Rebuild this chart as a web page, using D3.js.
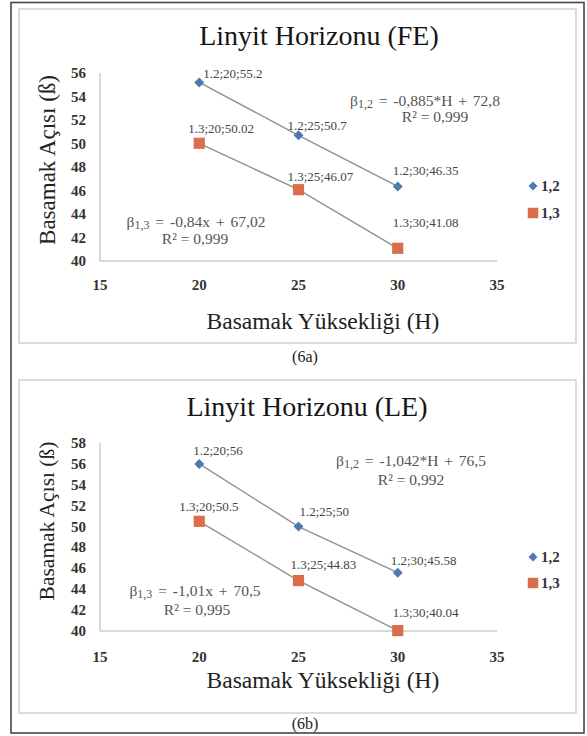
<!DOCTYPE html>
<meta charset="utf-8">
<style>
    body { margin: 0; background: #fff; }
    svg text { font-family: "Liberation Serif", "Tinos", "DejaVu Serif", serif; }
    .tick-label { font-weight: bold; font-size: 15px; fill: #333; }
    .point-label { font-size: 13px; fill: #444; }
    .equation { font-size: 15.5px; fill: #555; }
    .legend text { font-weight: bold; font-size: 15px; fill: #333; }
</style>
<svg width="587" height="736"></svg>
<script src="https://d3js.org/d3.v7.min.js"></script>
<script>
    // shared data
    const heights = [20, 25, 30];
    const xTicks = [15, 20, 25, 30, 35];
    const seriesNames = ["1,2", "1,3"];
    const seriesKeys = ["1.2", "1.3"];

    // (6a) FE
    const feBeta12 = [55.2, 50.7, 46.35];
    const feBeta13 = [50.02, 46.07, 41.08];
    const feYTicks = [40, 42, 44, 46, 48, 50, 52, 54, 56];
    const feEquations = ["-0,885*H + 72,8", "-0,84x + 67,02"];
    const feR2 = ["0,999", "0,999"];

    // (6b) LE
    const leBeta12 = [56, 50, 45.58];
    const leBeta13 = [50.5, 44.83, 40.04];
    const leYTicks = [40, 42, 44, 46, 48, 50, 52, 54, 56, 58];
    const leEquations = ["-1,042*H + 76,5", "-1,01x + 70,5"];
    const leR2 = ["0,992", "0,995"];

    // label nudges (px) so the point labels sit like in the original
    const feLabelOffsets = [[[4, -4], [-11, -5], [-5, -11]], [[-11, -10], [-11, -9], [-5, -21]]];
    const leLabelOffsets = [[[-6, -9], [1, -11], [-7, -8]], [[-20, -10], [-8, -12], [-5, -14]]];

    const colors = ["#4f79b3", "#da6d4b"];
    const serif = "'Liberation Serif', Tinos, 'DejaVu Serif', serif";

    const svg = d3.select("svg");

    // outer frame
    svg.append("rect")
        .attr("x", 11).attr("y", 2.5)
        .attr("width", 573).attr("height", 730.5)
        .attr("fill", "none").attr("stroke", "#454545").attr("stroke-width", 1.6);

    function drawPanel(p) {
        const g = svg.append("g").attr("font-family", serif);

        g.append("rect")
            .attr("x", 19).attr("y", p.boxTop)
            .attr("width", 557).attr("height", p.boxBottom - p.boxTop)
            .attr("fill", "none").attr("stroke", "#d8d8d8").attr("stroke-width", 1.8);

        const x = d3.scaleLinear().domain([15, 35]).range([100, 497]);
        const y = d3.scaleLinear().domain([40, d3.max(p.yTicks)]).range([p.yBottom, p.yTop]);

        // axis lines
        g.append("line")
            .attr("x1", x(15)).attr("x2", x(15))
            .attr("y1", y.range()[1]).attr("y2", y.range()[0])
            .attr("stroke", "#cdcdcd").attr("stroke-width", 1.5);
        g.append("line")
            .attr("x1", x(15)).attr("x2", x(35))
            .attr("y1", y(40)).attr("y2", y(40))
            .attr("stroke", "#cdcdcd").attr("stroke-width", 1.5);

        g.selectAll(".ytick").data(p.yTicks).enter().append("text")
            .attr("class", "tick-label")
            .attr("x", 86).attr("y", d => y(d))
            .attr("text-anchor", "end").attr("dominant-baseline", "central")
            .text(d => d);

        g.selectAll(".xtick").data(xTicks).enter().append("text")
            .attr("class", "tick-label")
            .attr("x", d => x(d)).attr("y", p.xTickBase)
            .attr("text-anchor", "middle")
            .text(d => d);

        // titles
        g.append("text")
            .attr("x", p.titleX).attr("y", p.titleBase)
            .attr("text-anchor", "middle")
            .style("font-size", "28px").style("fill", "#151515")
            .text(p.title);

        g.append("text")
            .attr("x", 323).attr("y", p.xTitleBase)
            .attr("text-anchor", "middle")
            .style("font-size", "23.5px").style("fill", "#222")
            .text("Basamak Yüksekliği (H)");

        g.append("text")
            .attr("transform", "translate(47," + p.yTitleMid + ") rotate(-90)")
            .attr("text-anchor", "middle").attr("dominant-baseline", "central")
            .style("font-size", p.yTitleSize + "px").style("fill", "#222")
            .text("Basamak Açısı (ß)");

        const line = d3.line().x(d => x(d[0])).y(d => y(d[1]));

        p.series.forEach(function (vals, si) {
            const pts = heights.map((h, i) => [h, vals[i]]);

            g.append("path")
                .datum(pts)
                .attr("d", line)
                .attr("fill", "none").attr("stroke", "#909090").attr("stroke-width", 1.4);

            const sym = si === 0
                ? d3.symbol().type(d3.symbolSquare).size(50)
                : d3.symbol().type(d3.symbolSquare).size(125);

            g.selectAll(".pt" + si).data(pts).enter().append("path")
                .attr("d", sym)
                .attr("transform", d => "translate(" + x(d[0]) + "," + y(d[1]) + ")" + (si === 0 ? " rotate(45)" : ""))
                .attr("fill", colors[si]);

            g.selectAll(".lbl" + si).data(pts).enter().append("text")
                .attr("class", "point-label")
                .attr("x", (d, i) => x(d[0]) + p.offsets[si][i][0])
                .attr("y", (d, i) => y(d[1]) + p.offsets[si][i][1])
                .text(d => seriesKeys[si] + ";" + d[0] + ";" + d[1]);
        });

        // trendline equations
        p.eqPos.forEach(function (pos, k) {
            const t = g.append("text")
                .attr("class", "equation")
                .attr("x", pos[0]).attr("y", pos[1])
                .attr("text-anchor", "middle")
                .style("word-spacing", "2px");
            t.append("tspan").text("β");
            t.append("tspan").attr("dy", 1.5).style("font-size", "12px").text(seriesNames[k]);
            t.append("tspan").attr("dy", -1.5).text(" = " + p.equations[k]);

            g.append("text")
                .attr("class", "equation")
                .attr("x", pos[2]).attr("y", pos[3])
                .attr("text-anchor", "middle")
                .text("R² = " + p.r2[k]);
        });

        // legend
        const legend = g.append("g").attr("class", "legend");
        seriesNames.forEach(function (name, si) {
            const ly = p.legendY[si];
            legend.append("path")
                .attr("d", d3.symbol().type(d3.symbolSquare).size(si === 0 ? 40 : 110))
                .attr("transform", "translate(533," + ly + ")" + (si === 0 ? " rotate(45)" : ""))
                .attr("fill", colors[si]);
            legend.append("text")
                .attr("x", 541).attr("y", ly)
                .attr("dominant-baseline", "central")
                .text(name);
        });

        g.append("text")
            .attr("x", 305).attr("y", p.captionBase)
            .attr("text-anchor", "middle")
            .style("font-size", "16px").style("fill", "#222")
            .text(p.caption);
    }

    drawPanel({
        boxTop: 9, boxBottom: 343,
        yTop: 73, yBottom: 261,
        yTicks: feYTicks,
        xTickBase: 290,
        title: "Linyit Horizonu (FE)", titleX: 319, titleBase: 45,
        xTitleBase: 329,
        yTitleMid: 160, yTitleSize: 23,
        series: [feBeta12, feBeta13],
        offsets: feLabelOffsets,
        equations: feEquations, r2: feR2,
        eqPos: [[425, 106, 435, 122], [196, 227, 195, 244]],
        legendY: [186, 213],
        caption: "(6a)", captionBase: 362
    });

    drawPanel({
        boxTop: 380, boxBottom: 713,
        yTop: 443, yBottom: 631,
        yTicks: leYTicks,
        xTickBase: 662,
        title: "Linyit Horizonu (LE)", titleX: 307, titleBase: 416,
        xTitleBase: 688,
        yTitleMid: 521, yTitleSize: 21.5,
        series: [leBeta12, leBeta13],
        offsets: leLabelOffsets,
        equations: leEquations, r2: leR2,
        eqPos: [[411, 466, 411, 485], [195, 596, 197, 615]],
        legendY: [557, 583],
        caption: "(6b)", captionBase: 729
    });
</script>
